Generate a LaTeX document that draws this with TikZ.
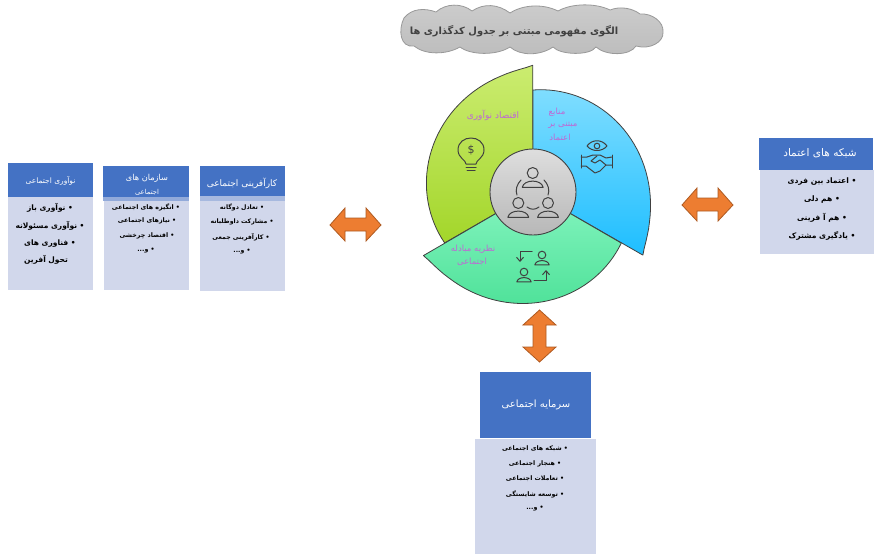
\documentclass[tikz,border=0pt]{standalone}
\usepackage{fontspec}
\usetikzlibrary{arrows.meta}
\TeXXeTstate=1
\newfontfamily\arabicfont[Script=Arabic]{DejaVu Sans}
\definecolor{hdr}{HTML}{4472C4}
\definecolor{bodyc}{HTML}{D1D7EB}
\definecolor{orng}{HTML}{ED7D31}
\definecolor{orngd}{HTML}{AE5A21}
\definecolor{ink}{HTML}{404040}
\definecolor{wtxt}{HTML}{BE68D4}
\definecolor{limeT}{HTML}{CBEC70}
\definecolor{limeB}{HTML}{A3D62A}
\definecolor{blueT}{HTML}{7FDDFF}
\definecolor{blueB}{HTML}{1EBEFF}
\definecolor{tealT}{HTML}{85F5C0}
\definecolor{tealB}{HTML}{50E29A}
\tikzset{
  hbox/.style={fill=hdr,draw=none},
  bbox/.style={fill=bodyc,draw=none},
  txt/.style={inner sep=0pt,font=\arabicfont\fontsize{#1}{#1}\selectfont},
  btxt/.style={inner sep=0pt,font=\arabicfont\bfseries\fontsize{#1}{#1}\selectfont},
  htxt/.style={txt=#1,text=white},
  wedgetxt/.style={txt=#1,text=wtxt},
  wedge/.style={draw=ink,line width=0.8pt,line join=round},
  icon/.style={draw=ink,line width=1pt,line cap=round,line join=round},
  dblarrow/.style={fill=orng,draw=orngd,line width=0.8pt,line join=miter}
}
\newcommand\itm[5]{\node[btxt=#4] (#1) at (#2,#3) {#5};}
\newcommand\persona[3]{% x y r
  \draw[icon] (#1,#2) circle (#3);
  \draw[icon] (#1-1.9*#3,#2+2.6*#3) .. controls (#1-1.6*#3,#2+1.1*#3) and (#1+1.6*#3,#2+1.1*#3) .. (#1+1.9*#3,#2+2.6*#3) -- cycle;}
\begin{document}
\begin{tikzpicture}[x=1pt,y=-1pt,
  declare function={rr(\t)=127-25*pow(\t,0.65);}]
\useasboundingbox (0,0) rectangle (874,554);
% cloud
\draw[draw=black!40,line width=0.8pt,top color=black!20,bottom color=black!26]
 (404,18) .. controls (412,8) and (425,8) .. (436,12)
 .. controls (446,3) and (462,3) .. (472,11)
 .. controls (484,3) and (498,4) .. (510,13)
 .. controls (524,4) and (544,4) .. (558,11)
 .. controls (572,3) and (596,3) .. (610,10)
 .. controls (620,6) and (632,8) .. (640,14)
 .. controls (652,13) and (664,22) .. (663,32)
 .. controls (664,42) and (650,50) .. (636,46)
 .. controls (630,56) and (606,56) .. (596,47)
 .. controls (590,56) and (560,55) .. (553,47)
 .. controls (540,56) and (520,56) .. (510,47)
 .. controls (496,56) and (470,55) .. (460,47)
 .. controls (446,55) and (425,55) .. (414,46)
 .. controls (400,48) and (398,30) .. (404,18) -- cycle;
\node[btxt=9.9,text=ink] (title) at (514,31) {\beginR الگوی مفهومی مبتنی بر جدول کدگذاری ها\endR};
% wedges
\coordinate (ctr) at (533,192);
\draw[wedge,top color=limeT,bottom color=limeB]
  plot[domain=0.001:1,samples=40,variable=\t] ({533+rr(\t)*cos(90+120*\t)},{192-rr(\t)*sin(90+120*\t)}) -- (ctr) -- cycle;
\draw[wedge,top color=blueT,bottom color=blueB]
  plot[domain=0.001:1,samples=40,variable=\t] ({533+rr(\t)*cos(-30+120*\t)},{192-rr(\t)*sin(-30+120*\t)}) -- (ctr) -- cycle;
\draw[wedge,top color=tealT,bottom color=tealB]
  plot[domain=0.001:1,samples=40,variable=\t] ({533+rr(\t)*cos(210+120*\t)},{192-rr(\t)*sin(210+120*\t)}) -- (ctr) -- cycle;
\node[circle,minimum size=86pt,inner sep=0pt,draw=ink,line width=0.9pt,top color=black!13,bottom color=black!28] (hub) at (ctr) {};
% wedge labels
\node[wedgetxt=9] (w1) at (493,115) {\beginR اقتصاد نوآوری\endR};
\node[wedgetxt=8.5] (w2a) at (557,112) {\beginR منابع\endR};
\node[wedgetxt=8.5] (w2b) at (563,125) {\beginR مبتنی بر\endR};
\node[wedgetxt=8.5] (w2c) at (560,137) {\beginR اعتماد\endR};
\node[wedgetxt=8.5] (w3a) at (473,249) {\beginR نظریه مبادله\endR};
\node[wedgetxt=8.5] (w3b) at (472,262) {\beginR اجتماعی\endR};
% hub icon
\persona{532.7}{173}{5.5}
\persona{518.3}{203}{5.5}
\persona{548}{203}{5.5}
\draw[icon] (521,180) .. controls (517,184) and (515,190) .. (517,195);
\draw[icon] (544,180) .. controls (548,184) and (550,190) .. (548,195);
\draw[icon] (527,207) .. controls (531,210) and (535,210) .. (539,207);
% bulb icon
\draw[icon] (466,164) .. controls (466,160) and (458,158) .. (458,150) .. controls (458,134) and (484,134) .. (484,150) .. controls (484,158) and (476,160) .. (476,164) -- cycle;
\draw[icon] (466,167) -- (476,167) (467,170) -- (475,170);
\node[txt=11,text=ink] (dollar) at (471,150) {\$};
% eye + handshake icon
\draw[icon] (587,146) .. controls (592,139) and (602,139) .. (607,146) .. controls (602,152) and (592,152) .. (587,146) -- cycle;
\draw[icon] (597,146) circle (2.8);
\draw[icon] (581,155) -- (581,168) (612,155) -- (612,168);
\draw[icon] (581,157) -- (587,157) -- (593,155) -- (600,155) -- (606,158) -- (612,157);
\draw[icon] (581,166) -- (586,166) -- (595,173) -- (600,171) -- (606,165) -- (612,165);
\draw[icon] (597,156) -- (591,161) -- (595,163) -- (600,160) -- (606,165);
% exchange icon
\persona{542}{255}{3.8}
\persona{524}{272}{3.8}
\draw[icon,-{Straight Barb[length=4pt,width=7pt]}] (532,251) -- (520,251) -- (520,262);
\draw[icon,-{Straight Barb[length=4pt,width=7pt]}] (534,280) -- (546,280) -- (546,270);
% double arrows
\draw[dblarrow] (330,225) -- (345,208) -- (345,218) -- (366,218) -- (366,208) -- (381,225) -- (366,241) -- (366,231) -- (345,231) -- (345,241) -- cycle;
\draw[dblarrow] (682,205) -- (697,188) -- (697,198) -- (718,198) -- (718,188) -- (733,205) -- (718,221) -- (718,211) -- (697,211) -- (697,221) -- cycle;
\draw[dblarrow] (539.5,310) -- (556,325) -- (546,325) -- (546,347) -- (556,347) -- (539.5,362) -- (523,347) -- (533,347) -- (533,325) -- (523,325) -- cycle;
% boxes
\fill[bbox] (8,196) rectangle (93,290);
\fill[hbox] (8,163) rectangle (93,197);
\node[htxt=7.5] (h1) at (50.5,181) {\beginR نوآوری اجتماعی\endR};
\itm{a1}{50}{208}{7.5}{\beginR •\ نوآوری باز\endR}
\itm{a2}{50}{226}{7.5}{\beginR •\ نوآوری مسئولانه\endR}
\itm{a3}{50}{244}{7.5}{\beginR •\ فناوری های\endR}
\node[btxt=7.5] (a4) at (46,260) {\beginR تحول آفرین\endR};
\fill[bbox] (104,197) rectangle (189,290);
\fill[hdr!45!bodyc] (103,197) rectangle (189,201);
\fill[hbox] (103,166) rectangle (189,197);
\node[htxt=8.2] (h2a) at (147,178) {\beginR سازمان های\endR};
\node[htxt=6.8] (h2b) at (147,192) {\beginR اجتماعی\endR};
\itm{b1}{146}{207}{6.3}{\beginR •\ انگیزه های اجتماعی\endR}
\itm{b2}{147}{221}{6.3}{\beginR •\ نیازهای اجتماعی\endR}
\itm{b3}{147}{236}{6.3}{\beginR •\ اقتصاد چرخشی\endR}
\itm{b4}{146}{251}{6.3}{\beginR •\ و...\endR}
\fill[bbox] (200,196) rectangle (285,291);
\fill[hdr!30!bodyc] (200,196) rectangle (285,201);
\fill[hbox] (200,166) rectangle (285,196);
\node[htxt=9] (h3) at (242,183) {\beginR کارآفرینی اجتماعی\endR};
\itm{c1}{242}{207}{6.2}{\beginR •\ تعادل دوگانه\endR}
\itm{c2}{242}{222}{6.2}{\beginR •\ مشارکت داوطلبانه\endR}
\itm{c3}{241}{237}{6.2}{\beginR •\ کارآفرینی جمعی\endR}
\itm{c4}{242}{252}{6.2}{\beginR •\ و...\endR}
\fill[bbox] (760,170) rectangle (874,254);
\fill[hbox] (759,138) rectangle (873,170);
\node[htxt=10.5] (h4) at (820,153) {\beginR شبکه های اعتماد\endR};
\itm{d1}{822}{182}{7.6}{\beginR •\ اعتماد بین فردی\endR}
\itm{d2}{822}{200}{7.6}{\beginR •\ هم دلی\endR}
\itm{d3}{822}{218}{7.6}{\beginR •\ هم آ فرینی\endR}
\itm{d4}{822}{236}{7.6}{\beginR •\ یادگیری مشترک\endR}
\fill[bbox] (475,439) rectangle (596,554);
\fill[hbox] (480,372) rectangle (591,438);
\node[htxt=10] (h5) at (536,405) {\beginR سرمایه اجتماعی\endR};
\itm{e1}{535}{449}{6.3}{\beginR •\ شبکه های اجتماعی\endR}
\itm{e2}{535}{464}{6.3}{\beginR •\ هنجار اجتماعی\endR}
\itm{e3}{535}{479}{6.3}{\beginR •\ تعاملات اجتماعی\endR}
\itm{e4}{535}{494}{6.3}{\beginR •\ توسعه شایستگی\endR}
\itm{e5}{535}{509}{6.3}{\beginR •\ و...\endR}
\end{tikzpicture}
\end{document}
